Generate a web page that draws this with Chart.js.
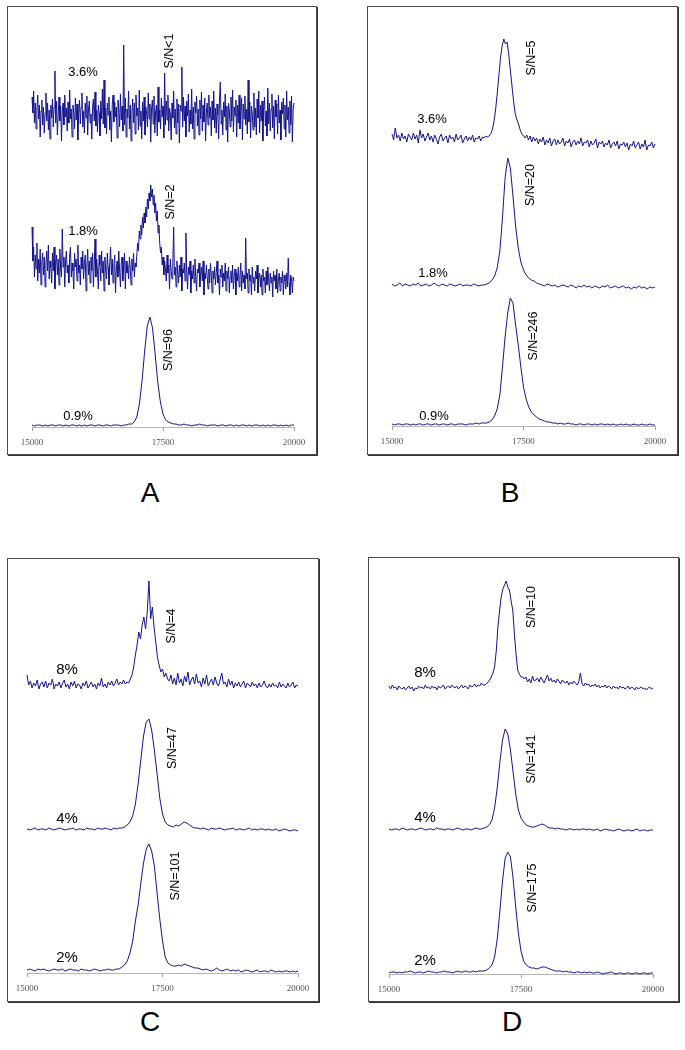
<!DOCTYPE html>
<html><head><meta charset="utf-8">
<script src="https://cdn.jsdelivr.net/npm/chart.js@4.4.1/dist/chart.umd.min.js"></script>
<style>
html,body{margin:0;padding:0;background:#fff;}
#fig{position:relative;width:685px;height:1050px;overflow:hidden;font-family:"Liberation Sans",Arial,sans-serif;background:#fff;}
.box{position:absolute;box-sizing:border-box;border:1px solid #4a4a4a;box-shadow:1px 1px 0 #333;}
canvas{position:absolute;}
.lbl{position:absolute;white-space:nowrap;color:#000;transform:translate(-50%,-50%);line-height:1;}
.rot{transform:translate(-50%,-50%) rotate(-90deg);}
.letter{position:absolute;transform:translate(-50%,-50%);font-size:28px;line-height:1;color:#000;}
</style></head>
<body><div id="fig"></div>
<script>
// ---------- axis ----------
const mzMin = 15000, mzMax = 20000;
const tickLabels = [15000, 17500, 20000];

// ---------- panel A (relative intensities) ----------
const A_36 = [18,2,24,-8,12,-14,6,20,-4,10,-22,4,15,-10,8,-18,2,22,-6,12,
-15,5,-24,10,-3,16,-12,8,44,-8,14,-20,0,18,-6,9,-26,4,12,-10,
20,-2,7,-16,13,-8,25,-4,6,-22,10,2,-14,17,-5,11,-25,3,15,-9,
8,22,-12,4,-18,12,-3,19,-20,6,14,-8,1,-24,9,16,-6,23,-11,5,
-17,10,2,-21,14,-4,26,-9,35,-13,7,-19,12,0,18,-15,4,-27,11,20,
-7,13,-2,8,-23,15,5,-12,21,-5,9,-16,70,-10,17,-22,6,-3,24,-14,
10,-26,3,16,-8,12,-19,20,-1,7,-15,25,-11,4,-24,13,-6,18,-20,8,
2,-12,22,-4,11,-27,6,15,-9,19,-18,3,10,-21,28,-7,5,-14,17,-2,
9,-23,42,-10,14,-5,20,-16,7,1,-25,12,-3,24,-13,6,-19,16,-8,11,
-28,10,4,48,-12,18,-6,9,-22,14,-1,21,-17,5,-9,26,-14,8,-24,13,
2,19,-11,6,-20,15,-4,23,-16,10,-7,17,-26,3,12,-10,20,-3,8,-21,
14,-5,24,-13,7,-18,11,0,-24,16,33,-9,5,-20,13,-2,21,-15,9,-27,
12,4,-12,18,-6,25,-17,8,-1,15,-22,10,-8,20,-14,3,17,-25,11,-4,
19,-10,6,-19,35,-7,13,-23,9,2,-15,22,-12,7,-20,16,-3,24,-18,10,
-6,14,-26,8,18,-11,4,-21,27,-9,12,-16,6,21,-13,9,-24,15,-2,11,
-19,20,-8,5,-25,13,1,17,-14,10,-22,24,-5,8,-18,14,-10,19,-27,6,
12];
const A_18 = [56,22,36,6,28,14,40,2,24,10,34,-2,20,30,8,26,-4,18,32,12,
38,4,22,16,0,30,12,36,-6,20,28,8,24,-2,34,14,6,54,16,26,
-4,22,32,10,18,0,28,36,6,20,12,-6,30,16,24,2,38,10,18,-2,
26,14,32,4,20,28,-8,16,34,8,22,0,26,12,30,-4,18,44,6,24,
12,-6,28,18,2,32,10,22,-8,26,14,4,30,16,-2,20,36,8,24,0,
18,28,-10,14,22,6,32,12,-4,20,26,2,16,30,-6,22,10,18,4,26,
14,-2,24,12,30,6,20,16,28,40,32,52,44,58,48,66,55,70,60,76,
66,84,74,90,82,98,86,94,78,88,70,80,62,72,50,58,40,30,36,18,
26,8,22,14,2,28,10,18,-6,24,12,4,20,56,8,16,-4,22,10,0,
18,6,26,-8,14,10,20,2,50,12,-6,16,8,22,-10,12,4,18,0,24,
6,-8,14,10,20,-4,8,16,2,22,-12,10,4,18,6,-6,14,0,20,8,
-10,12,4,16,-2,10,22,0,8,-12,14,6,18,-4,10,2,20,-8,12,4,
16,-10,6,12,0,18,-6,8,14,-12,10,2,16,-4,6,20,-8,12,0,8,
-6,45,4,10,-10,14,2,8,-12,16,0,6,-8,12,4,18,-10,6,10,-4,
8,-12,14,2,6,-10,12,-2,16,4,-8,10,0,6,-14,12,2,8,-6,14,
-10,4,10,-8,6,0,12,-12,8,2,-6,10,-4,25,0,-12,8,4,-10,6,
2];
const A_09 = [1,0,1,1,0,1,0,1,1,0,1,1,0,1,0,1,1,0,1,0,1,0,1,1,0,1,1,0,1,1,0,1,1,1,0,1,1,2,
2,4,9,22,45,75,100,109,98,72,44,24,12,6,4,3,2,
2,1,1,2,1,1,0,1,1,2,1,1,0,1,1,1,0,1,1,0,1,1,0,1,0,1,1,0,1,0,1,1,0,1,0,1,0,1,1,0,1,0,1,0,1,1];

// ---------- panel B ----------
const B_36 = [8,2,14,4,7,1,9,3,6,0,8,5,2,9,3,7,-1,12,4,8,1,5,9,2,6,0,7,3,-2,5,8,1,4,6,-1,7,3,5,0,8,2,4,7,-1,3,6,1,5,2,7,0,4,3,6,1,5,4,6,
5,6,8,12,20,32,48,66,84,96,103,98,100,88,72,56,40,28,22,18,12,8,6,4,
7,2,6,0,5,1,4,-2,3,0,5,-3,2,-1,4,-4,1,3,-3,2,-2,0,4,-4,1,-1,3,-5,0,2,
-3,1,-2,4,-4,0,-1,2,-5,1,-3,-1,3,-6,0,-2,1,-5,-1,-3,2,-6,-2,0,-4,1,-7,-2,-3,0,
-5,-1,-8,-2,-4,1,-6,-3,0,-7,-2,-5,2,-8,-3,-4,0,-6,-2];
const B_18 = [2,0,1,3,0,2,1,0,2,1,3,0,1,2,0,1,3,1,0,2,1,0,2,1,0,1,2,0,1,1,0,2,1,0,1,1,
2,3,6,10,18,35,68,108,128,118,90,60,38,24,16,11,8,6,5,3,
2,1,0,2,1,0,1,-1,0,1,0,-1,1,0,-2,0,-1,1,-1,0,-2,0,-1,-2,0,-1,1,-2,-1,0,-2,-1,0,-2,-1,-3,-1,-2,0,-2,-1,-3,-1,-2,-1];
const B_09 = [1,0,1,1,0,1,1,0,1,0,1,1,0,1,1,0,1,1,0,1,1,0,1,1,0,1,1,1,0,1,1,1,2,1,2,2,
2,3,5,9,16,30,58,88,112,127,122,100,80,58,38,26,18,13,10,8,6,5,4,3,3,
2,2,1,2,1,1,2,1,1,0,1,1,0,1,1,0,1,0,1,1,0,1,0,1,0,0,1,0,1,0,0,1,0,0,1,0,0,1,0,0];

// ---------- panel C ----------
const C_8 = [12,2,6,-1,4,1,7,-2,3,5,0,6,-1,4,2,8,-2,3,1,5,-1,4,7,0,3,-2,5,1,6,-1,3,2,-2,4,1,6,-1,2,5,0,3,-2,4,1,9,0,3,-1,5,2,6,1,4,8,2,5,3,7,
3,5,4,8,12,20,32,42,55,48,62,70,58,75,106,68,80,60,45,30,22,15,18,10,14,8,
6,12,3,9,2,14,4,8,1,11,5,15,2,7,10,3,13,4,6,0,9,3,12,1,5,8,2,10,4,1,
7,14,3,5,0,8,2,6,-1,4,1,5,0,3,6,-1,4,2,0,5,1,3,-1,4,0,2,6,1,-1,3,
0,4,1,2,-1,5,0,3,1,-1,4,0,2,5,-1,2,1];
const C_4 = [1,0,1,2,0,1,1,0,2,1,0,1,2,1,0,1,1,2,0,1,1,0,2,1,1,0,2,1,1,2,1,0,2,1,2,2,
3,5,8,14,26,46,70,94,108,111,100,80,56,32,16,8,5,4,3,5,4,6,8,7,5,3,2,2,
1,2,1,0,2,1,1,2,1,0,1,1,2,0,1,1,0,1,2,0,1,0,1,1,0,1,0,0,1,-1,0,1,0,-1,0,0,-1];
const C_2 = [1,2,1,0,2,1,2,1,0,1,2,1,1,2,0,1,2,1,1,0,2,1,1,0,1,2,1,0,1,1,2,1,1,2,
2,4,6,10,18,30,50,66,88,108,122,127,120,105,78,52,30,14,8,6,5,5,6,5,7,6,5,4,3,3,2,
1,2,1,0,1,3,1,0,1,2,0,1,0,1,-1,0,1,0,-1,0,1,-1,0,0,-1,1,0,-1,0,-1,0,0,-1,0,-1,0];

// ---------- panel D ----------
const D_8 = [3,0,4,1,2,-1,3,1,0,2,-1,1,3,0,2,-2,1,0,3,1,2,0,4,1,2,0,3,1,2,-1,3,1,2,4,0,2,3,1,4,2,1,3,0,2,4,1,3,2,0,4,2,3,5,2,4,3,6,4,
4,5,7,9,12,16,22,38,62,78,92,100,104,108,102,99,88,79,55,35,19,15,12,12,10,
12,7,10,6,13,8,9,11,7,12,9,6,10,14,8,11,7,9,6,10,8,5,9,7,6,8,4,7,5,8,
6,4,7,16,5,3,6,4,5,2,4,3,5,2,4,1,3,2,4,1,3,2,0,3,1,2,0,3,1,2,
0,1,3,0,2,1,-1,2,0,1,2,0,1,-1,1,2,0,1];
const D_4 = [1,0,1,1,0,2,1,0,1,1,0,1,2,1,0,1,1,0,2,1,1,0,1,1,0,1,2,1,0,1,1,0,1,2,1,1,
2,3,5,10,22,42,68,90,101,96,80,58,36,20,12,8,5,4,3,3,4,5,6,5,3,2,2,
1,2,1,1,0,1,1,0,1,0,1,1,0,1,0,0,1,-1,0,1,0,0,-1,0,1,0,-1,0,0,-1,0,1,-1,0,0,-1,0,0];
const D_2 = [0,1,1,0,1,0,1,1,2,1,0,1,1,0,1,2,1,1,0,1,1,2,1,1,0,1,2,1,1,2,1,1,2,1,2,2,
2,3,5,8,16,34,62,92,115,121,116,95,66,40,22,12,8,6,5,5,4,5,6,6,5,4,3,2,2,
2,1,2,1,1,0,1,1,0,1,0,1,0,0,1,0,-1,0,0,1,0,-1,0,0,-1,0,0,-1,0,0,-1,0,0,-1,0,0];

// ---------- layout (page pixels) ----------
const panels = [
  { letter:'A', letterPos:[150,493], box:[7,6,310,449], cv:[8,7,308,447], padL:24, padR:22, axisY:427, pct:13,
    traces:[{d:A_36, base:312},{d:A_18, base:144},{d:A_09, base:1}],
    pcts:[['3.6%',83,71],['1.8%',83,230],['0.9%',78,415]],
    sn:[['S/N<1',169,51],['S/N=2',170,202],['S/N=96',168,350]] },
  { letter:'B', letterPos:[510,493], box:[367,6,311,449], cv:[368,7,309,447], padL:24, padR:22, axisY:426, pct:13,
    traces:[{d:B_36, base:284},{d:B_18, base:140},{d:B_09, base:1}],
    pcts:[['3.6%',432,118],['1.8%',433,272],['0.9%',434,415]],
    sn:[['S/N=5',531,58],['S/N=20',530,185],['S/N=246',533,336]] },
  { letter:'C', letterPos:[150,1022], box:[7,558,312,444], cv:[8,559,310,442], padL:19, padR:20, axisY:973, pct:15,
    traces:[{d:C_8, base:286},{d:C_4, base:143},{d:C_2, base:2}],
    pcts:[['8%',67,668],['4%',67,817],['2%',67,956]],
    sn:[['S/N=4',171,626],['S/N=47',172,748],['S/N=101',175,876]] },
  { letter:'D', letterPos:[512,1022], box:[368,557,311,445], cv:[369,558,309,443], padL:20, padR:25, axisY:974, pct:15,
    traces:[{d:D_8, base:285},{d:D_4, base:144},{d:D_2, base:1}],
    pcts:[['8%',425,671],['4%',425,816],['2%',425,959]],
    sn:[['S/N=10',531,607],['S/N=141',531,759],['S/N=175',532,888]] }
];

const fig = document.getElementById('fig');
function addDiv(cls, text, x, y, size) {
  const d = document.createElement('div');
  d.className = cls; d.textContent = text;
  d.style.left = x + 'px'; d.style.top = y + 'px';
  if (size) d.style.fontSize = size + 'px';
  fig.appendChild(d);
}

panels.forEach(p => {
  const b = document.createElement('div');
  b.className = 'box';
  b.style.left = p.box[0] + 'px'; b.style.top = p.box[1] + 'px';
  b.style.width = p.box[2] + 'px'; b.style.height = p.box[3] + 'px';
  fig.appendChild(b);

  const cv = document.createElement('canvas');
  cv.width = p.cv[2]; cv.height = p.cv[3];
  cv.style.left = p.cv[0] + 'px'; cv.style.top = p.cv[1] + 'px';
  cv.style.width = p.cv[2] + 'px'; cv.style.height = p.cv[3] + 'px';
  fig.appendChild(cv);

  const axisH = p.cv[1] + p.cv[3] - p.axisY;
  new Chart(cv, {
    type: 'line',
    data: {
      datasets: p.traces.map(t => ({
        data: t.d.map((v, i) => ({ x: mzMin + i * (mzMax - mzMin) / (t.d.length - 1), y: t.base + v })),
        borderColor: '#14148c', borderWidth: 1, pointRadius: 0, fill: false, tension: 0, clip: false
      }))
    },
    options: {
      responsive: false, animation: false, events: [], devicePixelRatio: 1,
      layout: { padding: { left: p.padL, right: p.padR, top: 0, bottom: 0 } },
      plugins: { legend: { display: false }, tooltip: { enabled: false } },
      scales: {
        x: {
          type: 'linear', min: mzMin, max: mzMax,
          afterBuildTicks: ax => { ax.ticks = tickLabels.map(v => ({ value: v })); },
          afterFit: ax => { ax.height = axisH; },
          ticks: { callback: v => String(v), font: { family: 'Liberation Serif', size: 9 }, color: '#555',
                   padding: 6, maxRotation: 0, autoSkip: false },
          grid: { display: true, drawOnChartArea: false, drawTicks: true, tickLength: 4, color: '#9a9a9a' },
          border: { display: true, color: '#b5b5b5', width: 1 }
        },
        y: { display: false, min: 0, max: p.axisY - p.cv[1] }
      }
    }
  });

  p.pcts.forEach(l => addDiv('lbl', l[0], l[1], l[2], p.pct));
  p.sn.forEach(l => addDiv('lbl rot', l[0], l[1], l[2], 12.5));
  addDiv('letter', p.letter, p.letterPos[0], p.letterPos[1]);
});
</script>
</body></html>
